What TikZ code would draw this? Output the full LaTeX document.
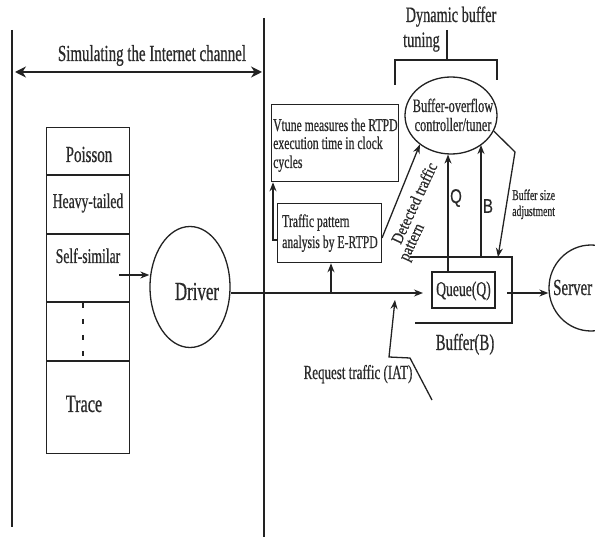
\documentclass[tikz,border=0pt]{standalone}
\usepackage{fontspec}
\setmainfont[FakeStretch=0.65,FakeBold=0.6]{Liberation Serif}
\newfontfamily\qbfont[FakeStretch=0.75,FakeBold=0.4]{Liberation Sans}
\newfontfamily\rotfont[FakeStretch=0.85,FakeBold=0.6]{Liberation Serif}
\usetikzlibrary{shapes.geometric,arrows.meta}
\definecolor{ink}{HTML}{222222}
\definecolor{tink}{HTML}{2A2A2A}
\newcommand\fsz[1]{\fontsize{#1}{#1}\selectfont}
\begin{document}
\begin{tikzpicture}[x=1pt,y=-1pt,
  line/.style={draw=ink,line width=1.3pt},
  divline/.style={draw=ink,line width=2pt},
  arr/.style={line,-{Stealth[length=9pt,width=7pt]}},
  txt/.style={text=tink,inner sep=0pt,anchor=base},
  txtl/.style={txt,anchor=base west},
  boxs/.style={line,rectangle,inner sep=0pt},
  rtxt/.style={text=tink,rotate=65,inner sep=0pt,font=\rotfont\fontsize{16.5}{16.5}\selectfont},
]
\useasboundingbox (0,0) rectangle (595,537);

% dividers and double arrow
\coordinate (l1) at (12,30); \coordinate (l2) at (12,527);
\coordinate (m1) at (264,18); \coordinate (m2) at (264,537);
\draw[divline] (l1) -- (l2);
\draw[divline] (m1) -- (m2);
\coordinate (da) at (15,72); \coordinate (db) at (262,72);
\draw[divline,{Stealth[length=11pt,width=11pt]}-{Stealth[length=11pt,width=11pt]}] (da) -- (db);
\node[txt] (title) at (152,61) {\fsz{23}Simulating the Internet channel};

% left stack
\node[boxs, minimum width=83pt, minimum height=326pt, anchor=north west] (stack) at (46,127) {};
\draw[line] (46,175) -- (129,175);
\draw[line] (46,234) -- (129,234);
\draw[line] (46,302) -- (129,302);
\draw[line] (46,361) -- (129,361);
\draw[line, dash pattern=on 5pt off 11pt] (83,303) -- (83,358);
\node[txt] (poisson) at (89,162) {\fsz{23}Poisson};
\node[txt] (heavy) at (88,208) {\fsz{21}Heavy-tailed};
\node[txt] (selfsim) at (88,263) {\fsz{21}Self-similar};
\node[txt] (trace) at (84,412) {\fsz{25}Trace};

% driver
\node[line, ellipse, minimum width=80pt, minimum height=121pt, inner sep=0pt] (driver) at (190,287) {};
\node[txt] (drivertxt) at (197,300) {\fsz{26}Driver};
\coordinate (ssfrom) at (119,275);
\draw[arr] (ssfrom) -- (ssfrom -| driver.west);

% queue and main line
\node[boxs, minimum width=63pt, minimum height=36pt] (queue) at (463.5,290) {};
\node[txt] (queuetxt) at (463.5,296) {\fsz{21}Queue(Q)};
\coordinate (mainstart) at (231,293);
\coordinate (qin) at (423,293);
\draw[arr] (mainstart) -- (qin);

% traffic pattern box
\node[boxs, minimum width=104pt, minimum height=59pt, anchor=north west] (tp) at (277,203) {};
\node[txtl] (tp1) at (282,227) {\fsz{18}Traffic pattern};
\node[txtl] (tp2) at (282,248) {\fsz{18}analysis by E-RTPD};
\coordinate (tpup) at (331,293);
\draw[arr] (tpup) -- (tpup |- tp.south);

% vtune box
\node[boxs, minimum width=127pt, minimum height=77pt, anchor=north west] (vt) at (271,104) {};
\node[txtl] (vt1) at (273,131) {\fsz{18}Vtune measures the RTPD};
\node[txtl] (vt2) at (273,149) {\fsz{18}execution time in clock};
\node[txtl] (vt3) at (273,168) {\fsz{18}cycles};
\coordinate (tpl) at (273,240);
\draw[arr] (tp.west |- tpl) -- (tpl) -- (tpl |- vt.south);

% buffer-overflow controller
\node[line, ellipse, minimum width=92pt, minimum height=77pt, inner sep=0pt] (bo) at (451,115.5) {};
\node[txt] (bo1) at (453,112) {\fsz{19}Buffer-overflow};
\node[txt] (bo2) at (453,131) {\fsz{19}controller/tuner};

% bracket
\coordinate (bk1) at (395,85); \coordinate (bk2) at (395,60);
\coordinate (bk3) at (497,60); \coordinate (bk4) at (497,80);
\coordinate (st1) at (447,30); \coordinate (st2) at (447,60);
\draw[line] (bk1) -- (bk2) -- (bk3) -- (bk4);
\draw[line] (st1) -- (st2);
\node[txt] (dyn1) at (451,22) {\fsz{22}Dynamic buffer};
\node[txtl] (dyn2) at (403,47) {\fsz{22}tuning};

% Q and B arrows
\coordinate (qfrom) at (448,272);
\draw[arr] (qfrom) -- (qfrom |- bo.-94);
\coordinate (bfrom) at (481,257);
\draw[arr] (bfrom) -- (bfrom |- bo.-44);
\node[text=tink, inner sep=0pt] (qlab) at (456,198) {\qbfont\fsz{20}Q};
\node[text=tink, inner sep=0pt] (blab) at (488,206) {\qbfont\fsz{20}B};

% buffer size adjustment
\coordinate (bsc) at (515,152); \coordinate (bsend) at (498,257);
\draw[arr] (bo.-20) -- (bsc) -- (bsend);
\node[txtl] (bs1) at (512,200) {\fsz{15}Buffer size};
\node[txtl] (bs2) at (512,216) {\fsz{15}adjustment};

% buffer shape
\coordinate (bf1) at (410,257); \coordinate (bf2) at (512,257);
\coordinate (bf3) at (512,323); \coordinate (bf4) at (415,323);
\draw[line] (bf1) -- (bf2) -- (bf3) -- (bf4);
\node[txt] (buftxt) at (465,350) {\fsz{23}Buffer(B)};

% server
\node[line, ellipse, minimum width=84pt, minimum height=86pt, inner sep=0pt] (server) at (591,288) {};
\node[txtl] (servertxt) at (553,295) {\fsz{23}Server};
\coordinate (sfrom) at (507,293);
\draw[arr] (sfrom) -- (sfrom -| server.west);

% detected traffic pattern
\coordinate (dtfrom) at (382,238);
\draw[arr] (dtfrom) -- (bo.-137);
\node[rtxt] (dtp1) at (414,203) {Detected traffic};
\node[rtxt] (dtp2) at (413.5,243) {pattern};

% request traffic
\coordinate (rt1) at (432,400); \coordinate (rt2) at (410,358);
\coordinate (rt3) at (389,357); \coordinate (rt4) at (395,300);
\draw[arr] (rt1) -- (rt2) -- (rt3) -- (rt4);
\node[txt] (rtxt) at (358,379) {\fsz{20}Request traffic (IAT)};
\end{tikzpicture}
\end{document}
